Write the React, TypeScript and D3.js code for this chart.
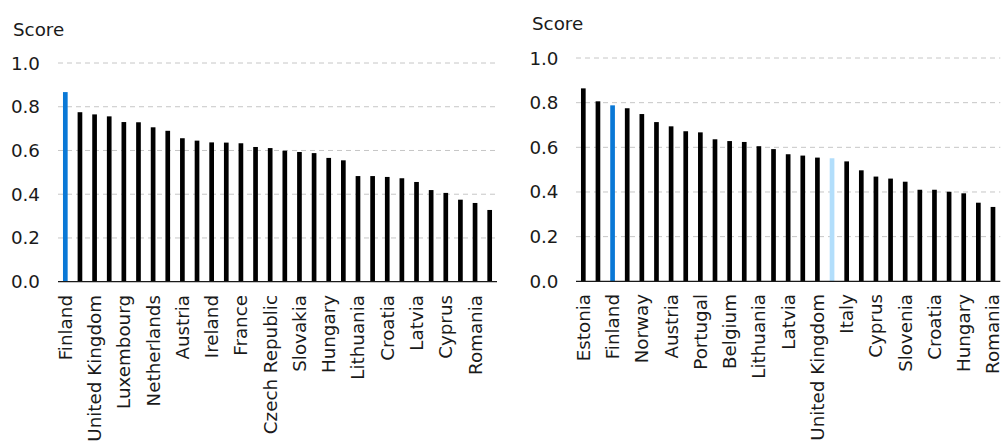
import React from "react";
import * as d3 from "d3";

const leftCategories = [
  "Finland", "Sweden", "United Kingdom", "Denmark", "Luxembourg", "Germany",
  "Netherlands", "Belgium", "Austria", "Estonia", "Ireland", "Slovenia",
  "France", "Spain", "Czech Republic", "Portugal", "Slovakia", "Malta",
  "Hungary", "Poland", "Lithuania", "Italy", "Croatia", "Greece",
  "Latvia", "Bulgaria", "Cyprus", "Norway", "Romania", "Iceland",
];
const leftValues = [
  0.867, 0.775, 0.765, 0.756, 0.73, 0.729, 0.706, 0.69, 0.656, 0.645,
  0.637, 0.636, 0.633, 0.616, 0.611, 0.599, 0.593, 0.588, 0.566, 0.555,
  0.483, 0.483, 0.479, 0.473, 0.456, 0.419, 0.406, 0.375, 0.36, 0.328,
];

const rightCategories = [
  "Estonia", "Sweden", "Finland", "Netherlands", "Norway", "Denmark",
  "Austria", "Spain", "Portugal", "Luxembourg", "Belgium", "Germany",
  "Lithuania", "France", "Latvia", "Ireland", "United Kingdom", "EU average",
  "Italy", "Poland", "Cyprus", "Czech Republic", "Slovenia", "Malta",
  "Croatia", "Slovakia", "Hungary", "Bulgaria", "Romania",
];
const rightValues = [
  0.864, 0.806, 0.788, 0.775, 0.749, 0.713, 0.694, 0.672, 0.667, 0.636,
  0.628, 0.624, 0.605, 0.592, 0.569, 0.563, 0.554, 0.551, 0.537, 0.497,
  0.469, 0.46, 0.446, 0.41, 0.41, 0.401, 0.394, 0.352, 0.333,
];

const yTicks = [0, 0.2, 0.4, 0.6, 0.8, 1.0];
const gridTicks = [0.2, 0.4, 0.6, 0.8, 1.0];
const yTitle = "Score";

const BLUE = "#0a78d6";
const LIGHT_BLUE = "#b2defb";
const FONT = "DejaVu Sans, Verdana, sans-serif";
const FS = 18.3;

function barColor(cat: string) {
  if (cat === "Finland") return BLUE;
  if (cat === "EU average") return LIGHT_BLUE;
  return "#000";
}

type PanelProps = {
  categories: string[];
  values: number[];
  x0: number;
  x1: number;
  yBottom: number;
  yTop: number;
  tickX: number;
  titleX: number;
  titleY: number;
  labelY: number;
};

function Panel(p: PanelProps) {
  const x = d3
    .scaleBand<string>()
    .domain(p.categories)
    .range([p.x0, p.x1])
    .paddingInner(0.68)
    .paddingOuter(0.34);
  const y = d3.scaleLinear().domain([0, 1]).range([p.yBottom, p.yTop]);
  return (
    <g>
      <text x={p.titleX} y={p.titleY} fontSize={FS} fontFamily={FONT} fill="#1a1a1a">
        {yTitle}
      </text>
      {gridTicks.map((t) => (
        <line
          key={"g" + t}
          x1={p.x0}
          x2={p.x1}
          y1={y(t)}
          y2={y(t)}
          stroke="#c6c6c6"
          strokeWidth={1}
          strokeDasharray="5,4"
        />
      ))}
      {yTicks.map((t) => (
        <text
          key={"t" + t}
          x={p.tickX}
          y={y(t)}
          textAnchor="end"
          dominantBaseline="central"
          fontSize={FS}
          fontFamily={FONT}
          fill="#1a1a1a"
        >
          {d3.format(".1f")(t)}
        </text>
      ))}
      {p.categories.map((c, i) => (
        <rect
          key={"b" + c}
          x={x(c)}
          y={y(p.values[i])}
          width={x.bandwidth()}
          height={y(0) - y(p.values[i])}
          fill={barColor(c)}
        />
      ))}
      <line x1={p.x0} x2={p.x1} y1={y(0)} y2={y(0)} stroke="#1a1a1a" strokeWidth={1.3} />
      {p.categories.map((c, i) =>
        i % 2 === 0 ? (
          <text
            key={"l" + c}
            transform={`translate(${(x(c) as number) + x.bandwidth() / 2},${p.labelY}) rotate(-90)`}
            textAnchor="end"
            dominantBaseline="central"
            fontSize={FS}
            fontFamily={FONT}
            fill="#1a1a1a"
          >
            {c}
          </text>
        ) : null
      )}
    </g>
  );
}

export default function App() {
  return (
    <div style={{ position: "absolute", left: 0, top: 0 }}>
      <svg width={1003} height={441} style={{ display: "block", background: "#fff" }}>
        <Panel
          categories={leftCategories}
          values={leftValues}
          x0={58}
          x1={497}
          yBottom={281.7}
          yTop={63}
          tickX={40}
          titleX={13}
          titleY={36}
          labelY={295}
        />
        <Panel
          categories={rightCategories}
          values={rightValues}
          x0={576}
          x1={1000.3}
          yBottom={281.3}
          yTop={58}
          tickX={558.5}
          titleX={532}
          titleY={30}
          labelY={294}
        />
      </svg>
    </div>
  );
}
